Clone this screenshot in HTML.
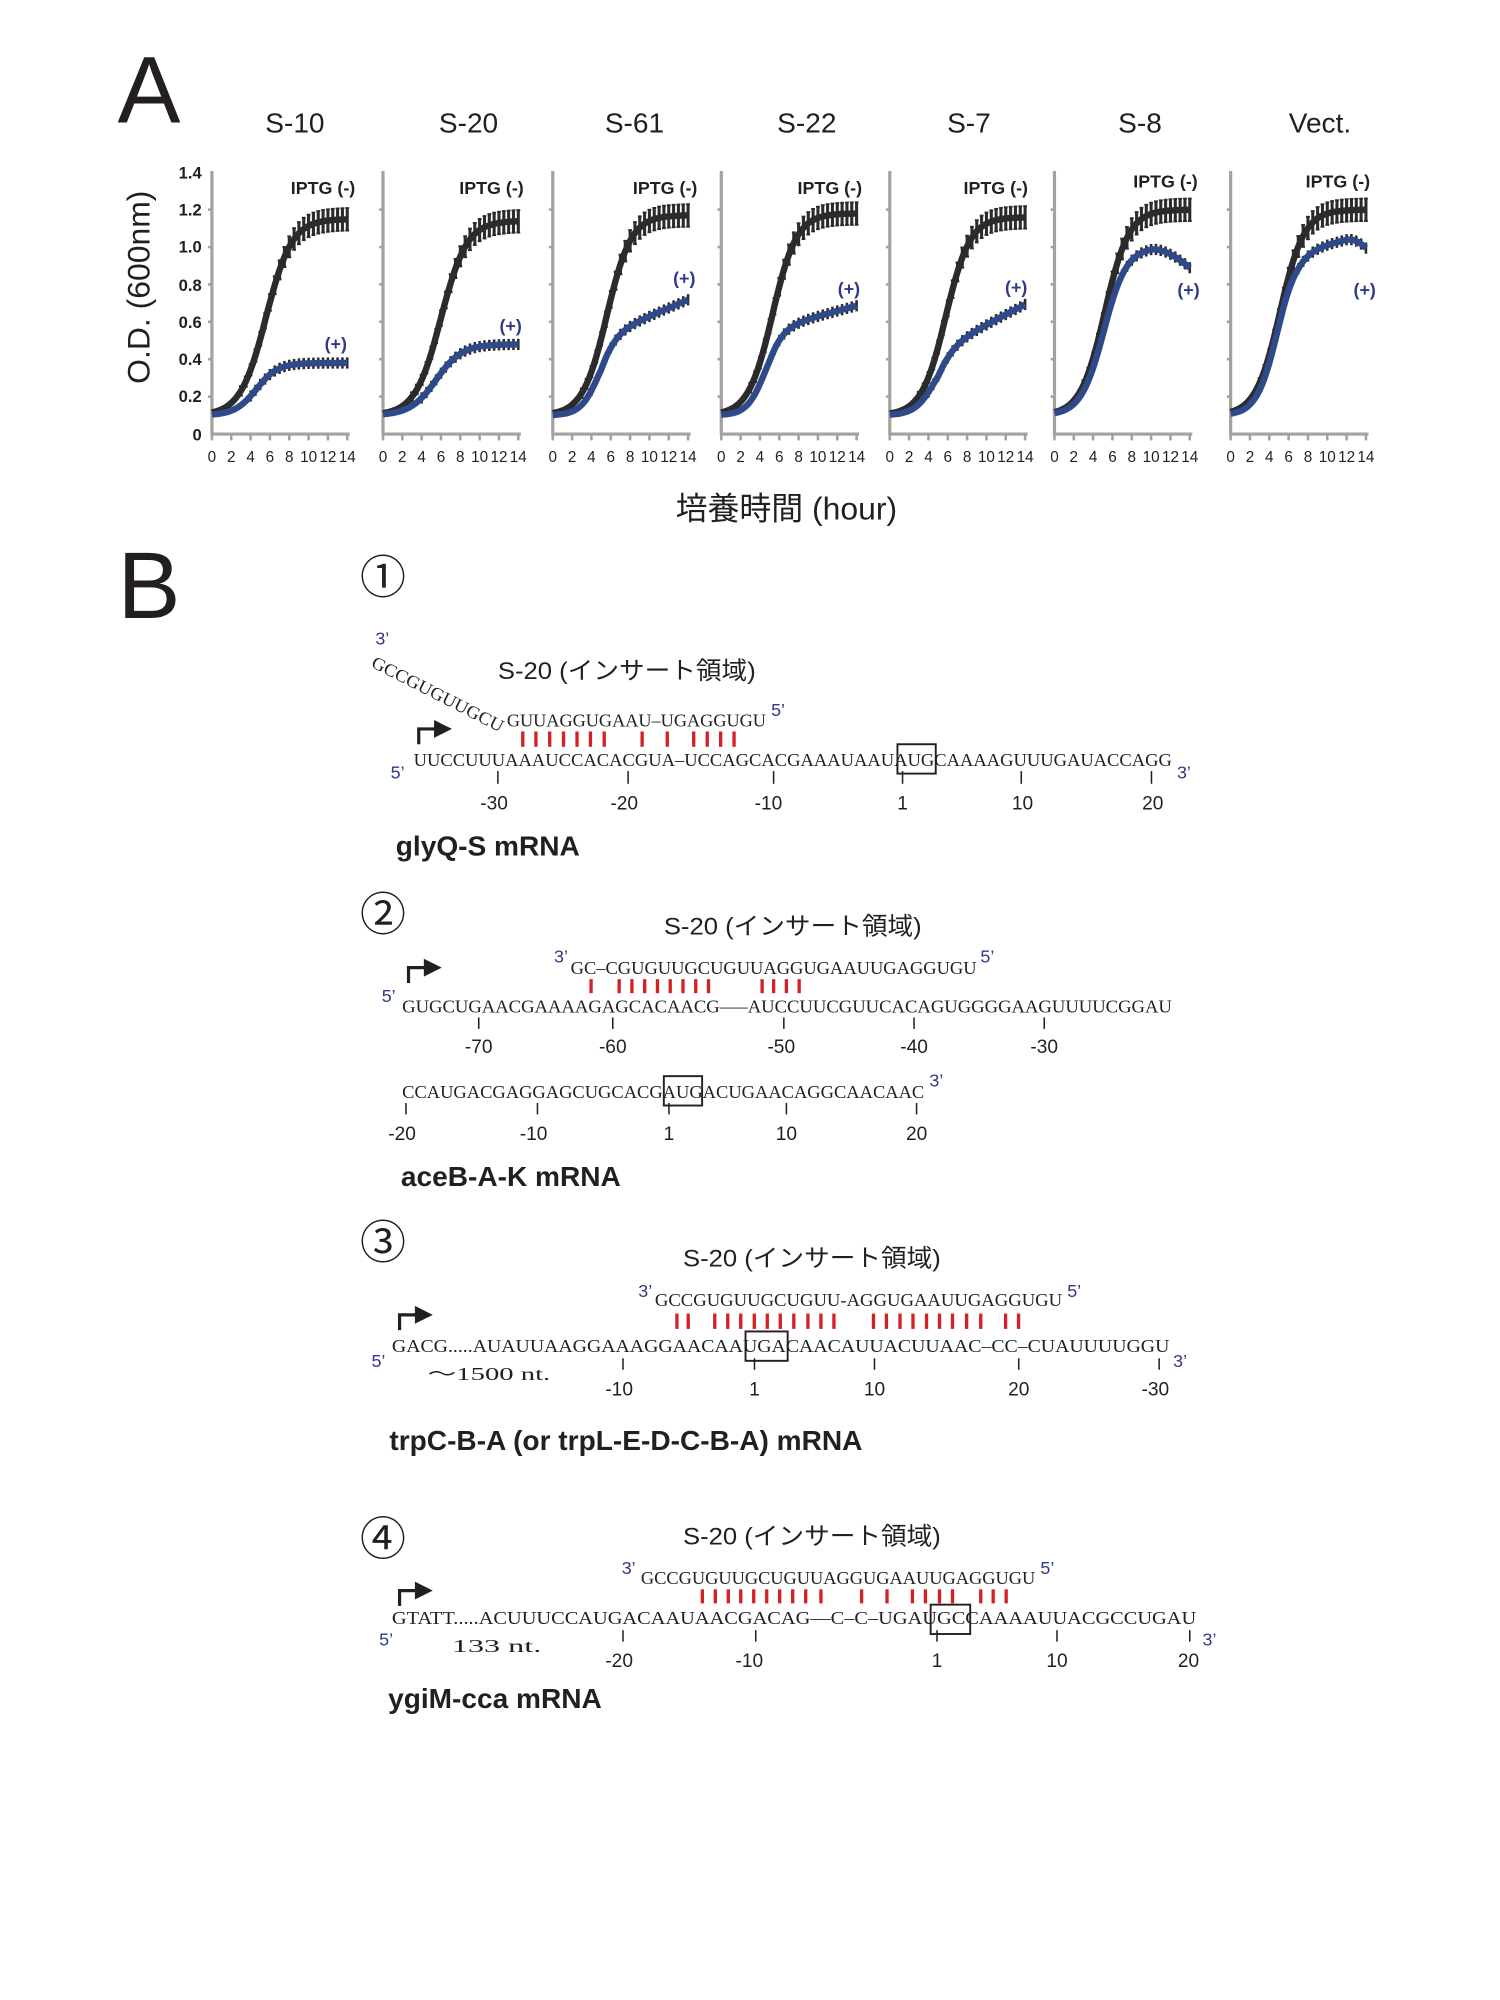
<!DOCTYPE html>
<html><head><meta charset="utf-8"><style>
html,body{margin:0;padding:0;background:#fff;width:1500px;height:2000px;overflow:hidden}
svg{display:block}
.t{font-family:"Liberation Sans","Noto Sans CJK JP",sans-serif}
.s{font-family:"Liberation Serif","DejaVu Serif",serif;fill:#231f20}
.n{fill:#2e3a85;font-family:"Liberation Sans",sans-serif}
</style></head><body>
<svg id="g" width="1500" height="2000" viewBox="0 0 1175 1566.7" xmlns="http://www.w3.org/2000/svg">
<g class="t" fill="#231f20">
<text x="92" y="96" font-size="74">A</text>
<text x="92" y="484" font-size="74">B</text>
<g font-size="22" text-anchor="middle">
<text x="231" y="104">S-10</text><text x="367" y="104">S-20</text><text x="497" y="104">S-61</text>
<text x="632" y="104">S-22</text><text x="759" y="104">S-7</text><text x="893" y="104">S-8</text><text x="1034" y="104">Vect.</text>
</g>
<text transform="translate(117,225) rotate(-90)" font-size="25" text-anchor="middle">O.D. (600nm)</text>
<g font-size="13" font-weight="bold" text-anchor="end">
<text x="158" y="140">1.4</text><text x="158" y="169">1.2</text><text x="158" y="198">1.0</text><text x="158" y="228">0.8</text>
<text x="158" y="257">0.6</text><text x="158" y="286">0.4</text><text x="158" y="315">0.2</text><text x="158" y="345">0</text>
</g>
<text x="616" y="407" font-size="25" text-anchor="middle">培養時間 (hour)</text>
</g>
<g id="charts"></g>

<g class="t" fill="#231f20">
<text x="300" y="465" font-size="36" text-anchor="middle">①</text>
<text x="300" y="729" font-size="36" text-anchor="middle">②</text>
<text x="300" y="986" font-size="36" text-anchor="middle">③</text>
<text x="300" y="1218" font-size="36" text-anchor="middle">④</text>
<g font-size="19">
<text x="390" y="532" textLength="202" lengthAdjust="spacingAndGlyphs">S-20 (インサート領域)</text>
<text x="520" y="732" textLength="202" lengthAdjust="spacingAndGlyphs">S-20 (インサート領域)</text>
<text x="535" y="992" textLength="202" lengthAdjust="spacingAndGlyphs">S-20 (インサート領域)</text>
<text x="535" y="1210" textLength="202" lengthAdjust="spacingAndGlyphs">S-20 (インサート領域)</text>
</g>
<g font-size="22" font-weight="bold">
<text x="310" y="670">glyQ-S mRNA</text>
<text x="314" y="929">aceB-A-K mRNA</text>
<text x="305" y="1136">trpC-B-A (or trpL-E-D-C-B-A) mRNA</text>
<text x="304" y="1338">ygiM-cca mRNA</text>
</g>
<g font-size="15" text-anchor="middle">
<text x="387" y="634">-30</text><text x="489" y="634">-20</text><text x="602" y="634">-10</text><text x="707" y="634">1</text><text x="801" y="634">10</text><text x="903" y="634">20</text>
<text x="375" y="825">-70</text><text x="480" y="825">-60</text><text x="612" y="825">-50</text><text x="716" y="825">-40</text><text x="818" y="825">-30</text>
<text x="315" y="893">-20</text><text x="418" y="893">-10</text><text x="524" y="893">1</text><text x="616" y="893">10</text><text x="718" y="893">20</text>
<text x="485" y="1093">-10</text><text x="591" y="1093">1</text><text x="685" y="1093">10</text><text x="798" y="1093">20</text><text x="905" y="1093">-30</text>
<text x="485" y="1306">-20</text><text x="587" y="1306">-10</text><text x="734" y="1306">1</text><text x="828" y="1306">10</text><text x="931" y="1306">20</text>
</g>
</g>
<g class="n" font-size="14">
<text x="294" y="505">3’</text><text x="604" y="561">5’</text><text x="306" y="610">5’</text><text x="922" y="610">3’</text>
<text x="434" y="754">3’</text><text x="768" y="754">5’</text><text x="299" y="785">5’</text><text x="728" y="851">3’</text>
<text x="500" y="1016">3’</text><text x="836" y="1016">5’</text><text x="291" y="1071">5’</text><text x="919" y="1071">3’</text>
<text x="487" y="1233">3’</text><text x="815" y="1233">5’</text><text x="297" y="1289">5’</text><text x="942" y="1289">3’</text>
</g>
<g class="s" font-size="14">
<text transform="translate(290,522) rotate(27)" textLength="114" lengthAdjust="spacingAndGlyphs">GCCGUGUUGCU</text>
<text x="397" y="569" textLength="203" lengthAdjust="spacingAndGlyphs">GUUAGGUGAAU–UGAGGUGU</text>
<text x="324" y="600" textLength="594" lengthAdjust="spacingAndGlyphs">UUCCUUUAAAUCCACACGUA–UCCAGCACGAAAUAAUAUGCAAAAGUUUGAUACCAGG</text>
<text x="447" y="763" textLength="318" lengthAdjust="spacingAndGlyphs">GC–CGUGUUGCUGUUAGGUGAAUUGAGGUGU</text>
<text x="315" y="793" textLength="603" lengthAdjust="spacingAndGlyphs">GUGCUGAACGAAAAGAGCACAACG–––AUCCUUCGUUCACAGUGGGGAAGUUUUCGGAU</text>
<text x="315" y="860" textLength="409" lengthAdjust="spacingAndGlyphs">CCAUGACGAGGAGCUGCACGAUGACUGAACAGGCAACAAC</text>
<text x="513" y="1023" textLength="319" lengthAdjust="spacingAndGlyphs">GCCGUGUUGCUGUU-AGGUGAAUUGAGGUGU</text>
<text x="307" y="1059" textLength="609" lengthAdjust="spacingAndGlyphs">GACG.....AUAUUAAGGAAAGGAACAAUGACAACAUUACUUAAC–CC–CUAUUUUGGU</text>
<text x="335" y="1081" textLength="96" lengthAdjust="spacingAndGlyphs">～1500 nt.</text>
<text x="502" y="1241" textLength="309" lengthAdjust="spacingAndGlyphs">GCCGUGUUGCUGUUAGGUGAAUUGAGGUGU</text>
<text x="307" y="1272" textLength="630" lengthAdjust="spacingAndGlyphs">GTATT.....ACUUUCCAUGACAAUAACGACAG––C–C–UGAUGCCAAAAUUACGCCUGAU</text>
<text x="354" y="1294" textLength="70" lengthAdjust="spacingAndGlyphs">133 nt.</text>
</g>
<g fill="none" stroke="#231f20" stroke-width="1.5">
<rect x="703" y="583" width="30" height="23"/>
<rect x="520" y="843" width="30" height="23"/>
<rect x="584" y="1043" width="33" height="23"/>
<rect x="729" y="1257" width="31" height="23"/>
</g>
<g id="ticks" stroke="#231f20" stroke-width="1.2"></g>
<g id="bars" stroke="#d42027" stroke-width="2.6"></g>
<g id="arrows" fill="#231f20" stroke="#231f20"></g>
</svg>
<script>
var NS="http://www.w3.org/2000/svg";
function el(p,t,a){var e=document.createElementNS(NS,t);for(var k in a)e.setAttribute(k,a[k]);p.appendChild(e);return e;}
var C=document.getElementById('charts');
function Y(v){return 340-v*146.5/1.0;}
function lg(t,P,t0,k){return 0.1+(P-0.1)/(1+Math.exp(-k*(t-t0)));}
var panels=[
 {x:166,b:function(t){return lg(t,1.15,5.6,0.75)},u:function(t){return lg(t,0.38,4.6,0.9)},lab:[253,148],plus:[263,270]},
 {x:300,b:function(t){return lg(t,1.14,6.0,0.75)},u:function(t){return lg(t,0.48,5.5,0.75)},lab:[385,148],plus:[400,256]},
 {x:433,b:function(t){return lg(t,1.17,5.6,0.8)},u:function(t){return lg(t,0.52,4.7,1.1)+0.022*Math.max(0,t-5)},lab:[521,148],plus:[536,219]},
 {x:565,b:function(t){return lg(t,1.18,5.3,0.8)},u:function(t){return lg(t,0.56,4.5,1.1)+0.014*Math.max(0,t-5)},lab:[650,148],plus:[665,227]},
 {x:697,b:function(t){return lg(t,1.16,5.8,0.8)},u:function(t){return lg(t,0.45,4.6,1.0)+0.027*Math.max(0,t-5)},lab:[780,148],plus:[796,226]},
 {x:826,b:function(t){return lg(t,1.2,5.2,0.8)},u:function(t){var v=lg(t,1.0,5.1,0.85);return v-0.012*Math.pow(Math.max(0,t-10),1.6)},lab:[913,143],plus:[931,228]},
 {x:964,b:function(t){return lg(t,1.2,5.1,0.8)},u:function(t){var v=lg(t,0.98,4.8,0.95)+0.012*Math.max(0,t-7);return v-0.02*Math.pow(Math.max(0,t-12),1.8)},lab:[1048,143],plus:[1069,228]}
];
panels.forEach(function(p){
 var x0=p.x,W=106;
 el(C,'line',{x1:x0,y1:134,x2:x0,y2:341,stroke:'#a5a19b','stroke-width':2.5});
 el(C,'line',{x1:x0,y1:340,x2:x0+W+2,y2:340,stroke:'#a5a19b','stroke-width':2.5});
 for(var i=0;i<=7;i++){var tx=x0+i*W/7;el(C,'line',{x1:tx,y1:340,x2:tx,y2:345,stroke:'#a5a19b','stroke-width':2});
  var tt=el(C,'text',{x:tx,y:362,'font-size':12,'text-anchor':'middle',fill:'#231f20','font-family':'Liberation Sans Narrow,Liberation Sans,sans-serif'});tt.textContent=String(i*2);}
 for(var j=1;j<7;j++){el(C,'line',{x1:x0-3,y1:Y(j*0.2),x2:x0,y2:Y(j*0.2),stroke:'#a5a19b','stroke-width':2});}
 function path(f){var d='';for(var t=0;t<=14.001;t+=0.25){d+=(t?'L':'M')+(x0+t*W/14).toFixed(1)+','+Y(f(t)).toFixed(1);}return d;}
 for(var t=3;t<=14;t+=0.5){var v=p.b(t),xx=x0+t*W/14,e=0.02+0.04*Math.min(1,(v-0.1)/1);
  el(C,'line',{x1:xx,y1:Y(v+e),x2:xx,y2:Y(v-e),stroke:'#2b2b2b','stroke-width':2.4});
  el(C,'line',{x1:xx-1.5,y1:Y(v+e),x2:xx+1.5,y2:Y(v+e),stroke:'#2b2b2b','stroke-width':1.5});
  el(C,'line',{x1:xx-1.5,y1:Y(v-e),x2:xx+1.5,y2:Y(v-e),stroke:'#2b2b2b','stroke-width':1.5});}
 el(C,'path',{d:path(p.b),fill:'none',stroke:'#2b2b2b','stroke-width':5});
 for(var t=4;t<=14;t+=0.5){var v=p.u(t),xx=x0+t*W/14,e=0.03;
  el(C,'line',{x1:xx,y1:Y(v+e),x2:xx,y2:Y(v-e),stroke:'#2b2b2b','stroke-width':2});}
 el(C,'path',{d:path(p.u),fill:'none',stroke:'#2f4a8a','stroke-width':5});
 var l=el(C,'text',{x:p.lab[0],y:p.lab[1]+4,'font-size':14,'font-weight':'bold','text-anchor':'middle',fill:'#231f20','font-family':'Liberation Sans,sans-serif'});l.textContent='IPTG (-)';
 var q=el(C,'text',{x:p.plus[0],y:p.plus[1]+4,'font-size':14,'font-weight':'bold','text-anchor':'middle',fill:'#2e3a85','font-family':'Liberation Sans,sans-serif'});q.textContent='(+)';
});
var T=document.getElementById('ticks');
[[390,604,614],[492,604,614],[606,604,614],[707,604,614],[800,604,614],[902,604,614],
 [375,797,806],[480,797,806],[614,797,806],[716,797,806],[818,797,806],
 [318,864,873],[421,864,873],[524,864,873],[616,864,873],[718,864,873],
 [488,1064,1073],[591,1064,1073],[685,1064,1073],[798,1064,1073],[908,1064,1073],
 [488,1277,1286],[592,1277,1286],[734,1277,1286],[828,1277,1286],[932,1277,1286]
].forEach(function(a){el(T,'line',{x1:a[0],y1:a[1],x2:a[0],y2:a[2]});});
var B=document.getElementById('bars');
function bars(xs,y1,y2){xs.forEach(function(x){el(B,'line',{x1:x,y1:y1,x2:x,y2:y2});});}
bars([409.5,419.8,430.6,441.4,452,462.5,473.3,503,522.7,543.4,554,564.5,575],573,585);
bars([463,485,495,505,515,525,535,545,555,597,606,616,626],767,778);
function mp(z){return (370+z*0.572)/1.293+3;}
bars([545,565,612,635,658,682,705,728,752,777,800,823,893,916,940,963,987,1010,1033,1058,1083,1127,1150].map(mp),1029,1041);
bars([590,613,636,658,681,704,727,750,773,800,872,917,962,985,1010,1033,1083,1105,1128].map(mp),1245,1256);
var A=document.getElementById('arrows');
[[328,583],[320,770],[313,1042],[313,1258]].forEach(function(a){var x=a[0],y=a[1];
 el(A,'path',{d:'M'+x+','+y+'V'+(y-12)+'H'+(x+14),fill:'none','stroke-width':2.5});
 el(A,'path',{d:'M'+(x+12)+','+(y-19)+'L'+(x+26)+','+(y-12)+'L'+(x+12)+','+(y-5)+'Z',stroke:'none'});});
</script>
</body></html>
